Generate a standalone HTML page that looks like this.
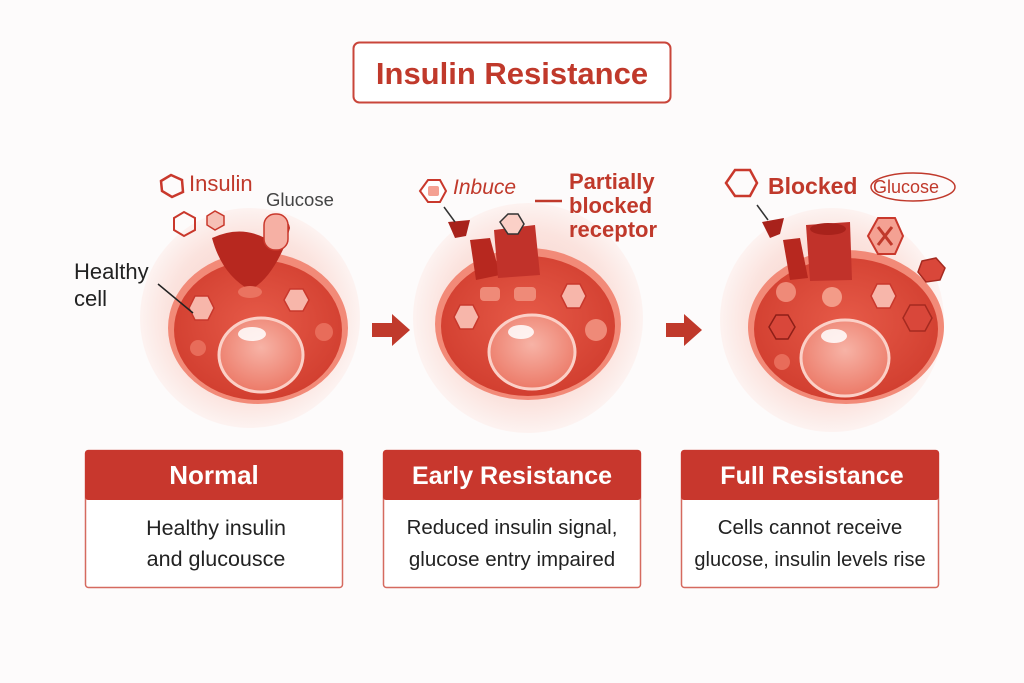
<!DOCTYPE html>
<html><head><meta charset="utf-8"><style>
html,body{margin:0;padding:0;background:#fdfbfb;}
svg{display:block;font-family:"Liberation Sans",sans-serif;}
</style></head><body>
<svg width="1024" height="683" viewBox="0 0 1024 683" xmlns="http://www.w3.org/2000/svg">
<defs>
<radialGradient id="glow" cx="50%" cy="50%" r="50%">
<stop offset="0" stop-color="#f6c9c1"/><stop offset="0.75" stop-color="#fbe3de"/><stop offset="1" stop-color="#fdf3f1"/>
</radialGradient>
<radialGradient id="body" cx="50%" cy="45%" r="55%">
<stop offset="0" stop-color="#e65a48"/><stop offset="1" stop-color="#d23f30"/>
</radialGradient>
<radialGradient id="nuc" cx="50%" cy="40%" r="60%">
<stop offset="0" stop-color="#f7b3a6"/><stop offset="1" stop-color="#ec7a68"/>
</radialGradient>
</defs>
<rect width="1024" height="683" fill="#fdfbfb"/>
<!-- title -->
<rect x="353.5" y="42.5" width="317" height="60" rx="6" fill="#fff" stroke="#c9453a" stroke-width="2"/>
<text x="512" y="84" text-anchor="middle" font-size="31" font-weight="bold" fill="#c0392b">Insulin Resistance</text>

<!-- cell 1 -->
<circle cx="250" cy="318" r="110" fill="url(#glow)"/>
<ellipse cx="258" cy="328" rx="90" ry="76" fill="#f28a78"/>
<ellipse cx="258" cy="330" rx="84" ry="70" fill="url(#body)"/>
<ellipse cx="261" cy="355" rx="42" ry="37" fill="url(#nuc)" stroke="#fbd0c7" stroke-width="3"/>
<ellipse cx="252" cy="334" rx="14" ry="7" fill="#fff" opacity="0.85"/>
<polygon points="195,296 208,296 214,308 208,320 195,320 189,308" fill="#f7b6aa" stroke="#c9382c" stroke-width="1.5"/>
<polygon points="290,289 303,289 309,300 303,311 290,311 284,300" fill="#f7b6aa" stroke="#c9382c" stroke-width="1.5"/>
<circle cx="324" cy="332" r="9" fill="#e86c5a"/>
<circle cx="198" cy="348" r="8" fill="#e86c5a"/>
<path d="M212,238 Q240,225 265,238 L276,228 Q288,215 290,228 L285,245 Q270,280 250,290 Q222,275 212,238Z" fill="#b7281f"/>
<rect x="264" y="214" width="24" height="36" rx="11" fill="#f6b0a4" stroke="#c9382c" stroke-width="1.5"/>
<ellipse cx="250" cy="292" rx="12" ry="6" fill="#ea7360"/>
<polygon points="161,181 171,175 182,180 183,192 172,197 162,191" fill="none" stroke="#c9382c" stroke-width="2.5"/>
<polygon points="174,218 184,212 195,218 195,230 184,236 174,230" fill="none" stroke="#c9382c" stroke-width="2"/>
<polygon points="207,216 215,211 224,216 224,225 215,230 207,225" fill="#f6c0b6" stroke="#c9382c" stroke-width="1.5"/>
<text x="189" y="191" font-size="22" fill="#c0392b">Insulin</text>
<text x="266" y="206" font-size="18.5" fill="#444">Glucose</text>
<text x="74" y="279" font-size="22" fill="#222">Healthy</text>
<text x="74" y="306" font-size="22" fill="#222">cell</text>
<line x1="158" y1="284" x2="193" y2="313" stroke="#222" stroke-width="1.5"/>

<!-- arrow 1 -->
<polygon points="372,323 392,323 392,314 410,330 392,346 392,337 372,337" fill="#c0392b"/>

<!-- cell 2 -->
<circle cx="528" cy="318" r="115" fill="url(#glow)"/>
<ellipse cx="528" cy="324" rx="93" ry="76" fill="#f28a78"/>
<ellipse cx="528" cy="326" rx="87" ry="70" fill="url(#body)"/>
<ellipse cx="532" cy="352" rx="43" ry="37" fill="url(#nuc)" stroke="#fbd0c7" stroke-width="3"/>
<ellipse cx="521" cy="332" rx="13" ry="7" fill="#fff" opacity="0.85"/>
<polygon points="460,305 473,305 479,317 473,329 460,329 454,317" fill="#f7b6aa" stroke="#c9382c" stroke-width="1.5"/>
<polygon points="567,284 580,284 586,296 580,308 567,308 561,296" fill="#f7b6aa" stroke="#c9382c" stroke-width="1.5"/>
<circle cx="596" cy="330" r="11" fill="#ef8a78"/>
<rect x="480" y="287" width="20" height="14" rx="4" fill="#ef8a78"/>
<rect x="514" y="287" width="22" height="14" rx="4" fill="#ef8a78"/>
<path d="M470,240 L490,238 L500,275 L476,280Z" fill="#b7281f"/>
<path d="M494,230 L535,225 L540,275 L498,278Z" fill="#c1322a"/>
<polygon points="500,222 508,214 518,214 524,224 518,234 508,234" fill="#fbd0c7" stroke="#333" stroke-width="1.5"/>
<path d="M448,222 L470,220 L466,236 L455,238Z" fill="#a8221b"/>
<line x1="444" y1="207" x2="455" y2="222" stroke="#333" stroke-width="1.5"/>
<polygon points="420,191 428,180 440,180 446,191 440,202 428,202" fill="#fff" stroke="#c9382c" stroke-width="2"/>
<rect x="428" y="186" width="11" height="10" rx="2" fill="#f4a193"/>
<text x="453" y="194" font-size="21" font-style="italic" fill="#c0392b">Inbuce</text>
<line x1="535" y1="201" x2="562" y2="201" stroke="#c0392b" stroke-width="2.5"/>
<text x="569" y="189" font-size="22" font-weight="bold" fill="#c0392b">Partially</text>
<text x="569" y="213" font-size="22" font-weight="bold" fill="#c0392b">blocked</text>
<text x="569" y="237" font-size="22" font-weight="bold" fill="#c0392b">receptor</text>

<!-- arrow 2 -->
<polygon points="666,323 684,323 684,314 702,330 684,346 684,337 666,337" fill="#c0392b"/>

<!-- cell 3 -->
<circle cx="832" cy="320" r="112" fill="url(#glow)"/>
<ellipse cx="846" cy="327" rx="98" ry="77" fill="#f28a78"/>
<ellipse cx="846" cy="329" rx="92" ry="71" fill="url(#body)"/>
<ellipse cx="845" cy="358" rx="44" ry="38" fill="url(#nuc)" stroke="#fbd0c7" stroke-width="3"/>
<ellipse cx="834" cy="336" rx="13" ry="7" fill="#fff" opacity="0.85"/>
<polygon points="776,315 788,315 795,327 788,339 776,339 769,327" fill="#d9473a" stroke="#8e1f18" stroke-width="1.5"/>
<polygon points="877,284 890,284 896,296 890,308 877,308 871,296" fill="#f7b6aa" stroke="#c9382c" stroke-width="1.5"/>
<polygon points="910,305 925,305 932,318 925,331 910,331 903,318" fill="#d9473a" stroke="#a52a20" stroke-width="1.5"/>
<polygon points="922,261 936,258 945,268 940,280 926,282 918,272" fill="#d9473a" stroke="#a52a20" stroke-width="1.5"/>
<circle cx="786" cy="292" r="10" fill="#ef8a78"/>
<circle cx="832" cy="297" r="10" fill="#f39b88"/>
<circle cx="782" cy="362" r="8" fill="#e86c5a"/>
<path d="M783,240 L800,238 L808,278 L790,280Z" fill="#b7281f"/>
<path d="M806,225 L850,222 L852,280 L810,281Z" fill="#c1322a"/>
<ellipse cx="828" cy="229" rx="18" ry="6" fill="#a8221b"/>
<path d="M762,222 L784,218 L780,234 L770,238Z" fill="#a8221b"/>
<line x1="757" y1="205" x2="768" y2="220" stroke="#333" stroke-width="1.5"/>
<polygon points="726,183 735,170 750,170 757,183 750,196 735,196" fill="none" stroke="#c9382c" stroke-width="2.5"/>
<polygon points="868,236 878,218 895,218 903,236 895,254 878,254" fill="#f4a193" stroke="#c9382c" stroke-width="2"/>
<path d="M878,227 L892,245 M892,227 L878,245" stroke="#c0392b" stroke-width="3"/>
<text x="768" y="194" font-size="23" font-weight="bold" fill="#c0392b">Blocked</text>
<text x="873" y="193" font-size="18" fill="#c0392b">Glucose</text>
<ellipse cx="913" cy="187" rx="42" ry="14" fill="none" stroke="#c0392b" stroke-width="1.5"/>

<!-- cards -->
<g>
<rect x="85.5" y="450.5" width="257" height="137" rx="3" fill="#fff" stroke="#d56a5f" stroke-width="1.5"/>
<rect x="85" y="450" width="258" height="50" rx="3" fill="#c8372d"/>
<text x="214" y="484" text-anchor="middle" font-size="26" font-weight="bold" fill="#fff">Normal</text>
<text x="216" y="535" text-anchor="middle" font-size="21.5" fill="#222">Healthy insulin</text>
<text x="216" y="566" text-anchor="middle" font-size="21.5" fill="#222">and glucousce</text>
</g>
<g>
<rect x="383.5" y="450.5" width="257" height="137" rx="3" fill="#fff" stroke="#d56a5f" stroke-width="1.5"/>
<rect x="383" y="450" width="258" height="50" rx="3" fill="#c8372d"/>
<text x="512" y="484" text-anchor="middle" font-size="25" font-weight="bold" fill="#fff">Early Resistance</text>
<text x="512" y="534" text-anchor="middle" font-size="20.5" fill="#222">Reduced insulin signal,</text>
<text x="512" y="566" text-anchor="middle" font-size="20.5" fill="#222">glucose entry impaired</text>
</g>
<g>
<rect x="681.5" y="450.5" width="257" height="137" rx="3" fill="#fff" stroke="#d56a5f" stroke-width="1.5"/>
<rect x="681" y="450" width="258" height="50" rx="3" fill="#c8372d"/>
<text x="812" y="484" text-anchor="middle" font-size="25" font-weight="bold" fill="#fff">Full Resistance</text>
<text x="810" y="534" text-anchor="middle" font-size="20.5" fill="#222">Cells cannot receive</text>
<text x="810" y="566" text-anchor="middle" font-size="20" fill="#222">glucose, insulin levels rise</text>
</g>
</svg>
</body></html>
